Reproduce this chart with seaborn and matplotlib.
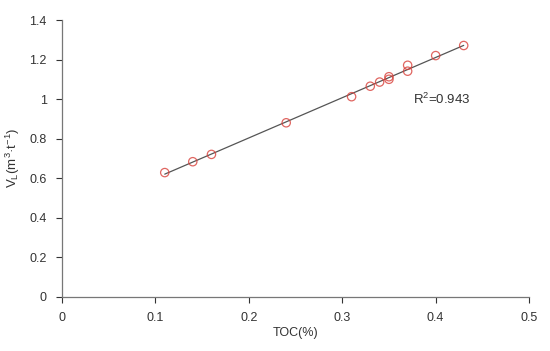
import matplotlib
matplotlib.use("Agg")
import matplotlib.pyplot as plt
import seaborn as sns
import pandas as pd
from matplotlib.ticker import FuncFormatter

toc = [0.11, 0.14, 0.16, 0.24, 0.31, 0.33, 0.34, 0.35, 0.35, 0.37, 0.37, 0.40, 0.43]
vl = [0.628, 0.683, 0.720, 0.880, 1.012, 1.065, 1.086, 1.113, 1.100, 1.171, 1.141, 1.220, 1.271]
r2_label = "R$^{2}$=0.943"

sns.set_theme(style="ticks")
plt.rcParams['font.family'] = ['Liberation Sans', 'DejaVu Sans']
plt.rcParams['mathtext.fontset'] = 'custom'
plt.rcParams['mathtext.rm'] = 'Liberation Sans'
plt.rcParams['mathtext.it'] = 'Liberation Sans'

df = pd.DataFrame({"TOC": toc, "VL": vl})

fig = plt.figure(figsize=(5.5, 3.51), dpi=100)
ax = fig.add_axes([0.1127, 0.1547, 0.962 - 0.1127, 0.943 - 0.1547])

sns.regplot(data=df, x="TOC", y="VL", ax=ax, ci=None,
            scatter_kws=dict(s=36, facecolors="none", edgecolors="#d8403a", linewidths=0.9, zorder=3),
            line_kws=dict(color="#555555", linewidth=0.9, zorder=2))

ax.set_xlim(0, 0.5)
ax.set_ylim(0, 1.4)
ax.set_xticks([0, 0.1, 0.2, 0.3, 0.4, 0.5])
ax.set_yticks([0, 0.2, 0.4, 0.6, 0.8, 1.0, 1.2, 1.4])
fmt = FuncFormatter(lambda v, p: f"{v:g}")
ax.xaxis.set_major_formatter(fmt)
ax.yaxis.set_major_formatter(fmt)
ax.tick_params(axis="both", labelsize=9, colors="#333333", length=4, width=0.8, direction="out", pad=7)
for s in ["left", "bottom"]:
    ax.spines[s].set_color("#777777")
    ax.spines[s].set_linewidth(0.9)
sns.despine(ax=ax)

ax.set_xlabel("TOC(%)", fontsize=9, color="#333333", labelpad=2)
ax.set_ylabel(r"V$_\mathrm{L}$(m$^{3}$·t$^{-1}$)", fontsize=9.5, color="#333333", labelpad=5)
ax.text(0.376, 1.0, r2_label, fontsize=9.5, color="#333333", va="center", ha="left")

fig.savefig("out.png", dpi=100)
